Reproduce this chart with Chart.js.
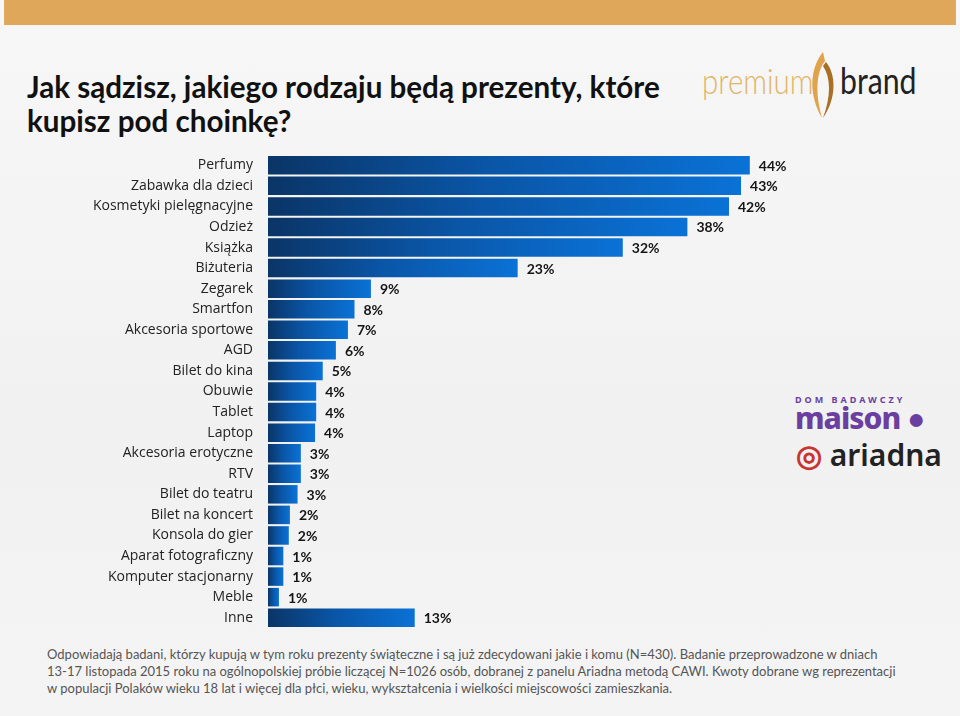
<!DOCTYPE html>
<html>
<head>
  <meta charset="utf-8">
  <title>Prezenty pod choinkę</title>
  <script src="https://cdn.jsdelivr.net/npm/chart.js"></script>
  <style>
    body { margin: 0; background: #fff; }
    #page { position: relative; width: 960px; height: 716px; overflow: hidden;
            background: linear-gradient(180deg, #f7f7f7 0%, #f1f1f1 60%, #f4f4f4 100%); }
    #band { position: absolute; left: 4px; top: 0; width: 952px; height: 25px; background: #dea75a; }
    #title { position: absolute; left: 27px; top: 70px; font-family: Lato, sans-serif; font-weight: 700;
             font-size: 29.6px; line-height: 34px; color: #111; white-space: nowrap; }
    #chartBox { position: absolute; left: 0; top: 150px; width: 960px; height: 482px; }
    #note { position: absolute; left: 47px; top: 646px; font-family: Lato, sans-serif; white-space: nowrap;
            font-size: 13px; line-height: 17px; color: #555; }
    .pb { position: absolute; top: 50px; font-family: Lato, sans-serif; font-size: 36px; line-height: 60px;
          transform-origin: 0 50%; }
    #pb1 { left: 702px; color: #e2b465; font-weight: 300; transform: scaleX(0.82); }
    #pb2 { left: 840px; color: #222; transform: scaleX(0.84); }
    #swoosh { position: absolute; left: 808px; top: 50px; width: 30px; height: 70px; }
    #maison { position: absolute; left: 795px; top: 395px; font-family: "Noto Sans", sans-serif; color: #6b3fa0; }
    #maison .s { font-size: 9px; font-weight: 700; letter-spacing: 3px; line-height: 10px; }
    #maison .b { font-size: 30px; font-weight: 800; line-height: 26px; letter-spacing: -1px; }
    #ariadna { position: absolute; left: 796px; top: 438px; font-family: "Noto Sans", sans-serif;
               font-size: 30px; font-weight: 600; color: #222; line-height: 34px; }
    #ariadna span { color: #c8352f; }
  </style>
</head>
<body>
<div id="page">
  <div id="band"></div>
  <div id="title">Jak sądzisz, jakiego rodzaju będą prezenty, które<br>kupisz pod choinkę?</div>
  <div class="pb" id="pb1">premium</div>
  <svg id="swoosh" viewBox="0 0 30 70">
    <path d="M15 2 C2 18 0 44 14 68 C7 44 8 22 17 11 Z" fill="#e0a24a"/>
    <path d="M18 12 C28 24 29 48 15 68 C23 46 23 28 15 16 Z" fill="#a86f25"/>
  </svg>
  <div class="pb" id="pb2">brand</div>
  <div id="maison"><div class="s">DOM BADAWCZY</div><div class="b">maison ●</div></div>
  <div id="ariadna"><span>◎</span> ariadna</div>
  <div id="chartBox"><canvas id="chart"></canvas></div>
  <div id="note">Odpowiadają badani, którzy kupują w tym roku prezenty świąteczne i są już zdecydowani jakie i komu (N=430). Badanie przeprowadzone w dniach<br>13-17 listopada 2015 roku na ogólnopolskiej próbie liczącej N=1026 osób, dobranej z panelu Ariadna metodą CAWI. Kwoty dobrane wg reprezentacji<br>w populacji Polaków wieku 18 lat i więcej dla płci, wieku, wykształcenia i wielkości miejscowości zamieszkania.</div>
</div>

<script>
  // categories and shares (%)
  const categories = [
    "Perfumy", "Zabawka dla dzieci", "Kosmetyki pielęgnacyjne", "Odzież", "Książka",
    "Biżuteria", "Zegarek", "Smartfon", "Akcesoria sportowe", "AGD", "Bilet do kina",
    "Obuwie", "Tablet", "Laptop", "Akcesoria erotyczne", "RTV", "Bilet do teatru",
    "Bilet na koncert", "Konsola do gier", "Aparat fotograficzny", "Komputer stacjonarny",
    "Meble", "Inne"
  ];
  const shares = [
    44.0, 43.2, 42.1, 38.3, 32.4, 22.8, 9.4, 7.9, 7.3, 6.2, 5.0,
    4.4, 4.4, 4.3, 3.0, 3.0, 2.7, 2.0, 1.9, 1.4, 1.4, 1.0, 13.4
  ];

  const valueLabels = {
    id: "valueLabels",
    afterDatasetsDraw(chart) {
      const ctx = chart.ctx;
      const meta = chart.getDatasetMeta(0);
      ctx.save();
      ctx.font = "bold 14px Lato, sans-serif";
      ctx.fillStyle = "#151515";
      ctx.textBaseline = "middle";
      ctx.textAlign = "left";
      meta.data.forEach((bar, i) => {
        ctx.fillText(Math.round(shares[i]) + "%", bar.x + 9, bar.y + 1);
      });
      ctx.restore();
    }
  };

  new Chart(document.getElementById("chart"), {
    type: "bar",
    data: {
      labels: categories,
      datasets: [{
        data: shares,
        categoryPercentage: 1,
        barPercentage: 0.9,
        backgroundColor: (c) => {
          const area = c.chart.chartArea;
          if (!area || !c.parsed) return "#0a5cb4";
          const end = c.chart.scales.x.getPixelForValue(c.parsed.x);
          const g = c.chart.ctx.createLinearGradient(area.left, 0, Math.max(end, area.left + 1), 0);
          g.addColorStop(0, "#0a3567");
          g.addColorStop(0.45, "#0a55a6");
          g.addColorStop(1, "#0a72d6");
          return g;
        }
      }]
    },
    options: {
      indexAxis: "y",
      responsive: true,
      maintainAspectRatio: false,
      animation: false,
      layout: { padding: { left: 0, right: 35, top: 5, bottom: 4 } },
      plugins: { legend: { display: false }, tooltip: { enabled: false } },
      scales: {
        x: { display: false, min: 0, max: 60 },
        y: {
          grid: { display: false, drawTicks: false },
          border: { display: false },
          ticks: { padding: 15, autoSkip: false, color: "#222", font: { family: "Open Sans", size: 14 } },
          afterFit: (s) => { s.width = 268; s.paddingTop = 0; s.paddingBottom = 0; }
        }
      }
    },
    plugins: [valueLabels]
  });
</script>
</body>
</html>
